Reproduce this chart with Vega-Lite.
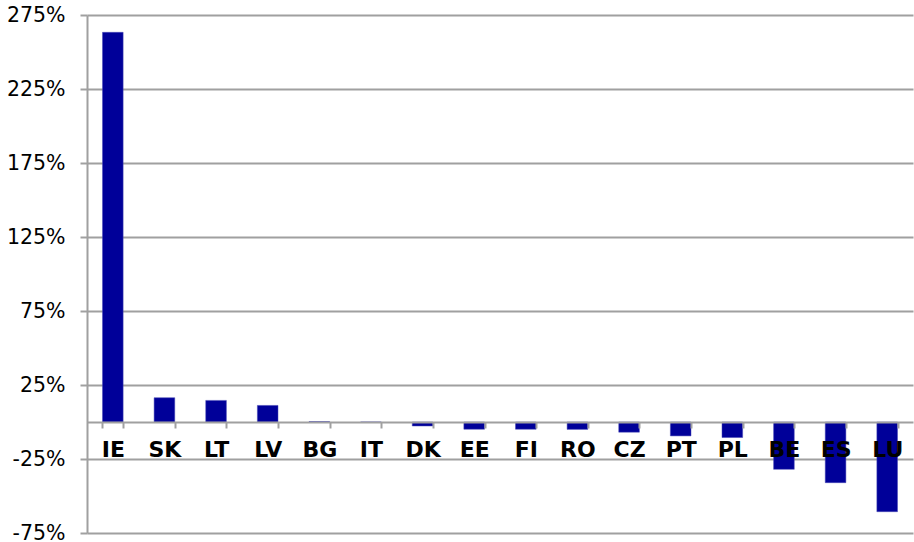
{
  "$schema": "https://vega.github.io/schema/vega-lite/v6.json",
  "width": 826,
  "height": 518,
  "autosize": {"type": "none"},
  "padding": {"left": 87, "top": 15, "right": 1, "bottom": 9},
  "background": "white",
  "config": {"view": {"stroke": null}},
  "data": {"values": [
    {"country": "IE", "value": 263.3},
    {"country": "SK", "value": 16.4},
    {"country": "LT", "value": 14.6},
    {"country": "LV", "value": 11.2},
    {"country": "BG", "value": 0.3},
    {"country": "IT", "value": 0},
    {"country": "DK", "value": -2.7},
    {"country": "EE", "value": -4.9},
    {"country": "FI", "value": -4.9},
    {"country": "RO", "value": -5.0},
    {"country": "CZ", "value": -6.9},
    {"country": "PT", "value": -9.4},
    {"country": "PL", "value": -10.5},
    {"country": "BE", "value": -32},
    {"country": "ES", "value": -41},
    {"country": "LU", "value": -60.6}
  ]},
  "mark": {"type": "bar", "color": "#000099", "stroke": "#4a4ab8", "strokeWidth": 0.5},
  "encoding": {
    "x": {
      "field": "country", "type": "nominal", "sort": null,
      "scale": {"paddingInner": 0.6, "paddingOuter": 0.3},
      "axis": {
        "title": null, "orient": "bottom", "offset": -111,
        "domainColor": "#a0a0a0", "domainWidth": 2,
        "tickColor": "#a0a0a0", "tickWidth": 2, "tickSize": 6, "tickBand": "extent",
        "labelAngle": 0, "labelFont": "DejaVu Sans", "labelFontWeight": "bold",
        "labelFontSize": 22, "labelColor": "black", "labelPadding": 11,
        "grid": false, "zindex": 1
      }
    },
    "y": {
      "field": "value", "type": "quantitative",
      "scale": {"domain": [-75, 275], "nice": false, "zero": false},
      "axis": {
        "title": null, "values": [-75, -25, 25, 75, 125, 175, 225, 275],
        "labelExpr": "datum.value + '%'",
        "labelFont": "DejaVu Sans", "labelFontSize": 20.5, "labelColor": "black",
        "labelPadding": 15, "tickSize": 7, "tickColor": "#a0a0a0", "tickWidth": 2,
        "domainColor": "#a0a0a0", "domainWidth": 2,
        "grid": true, "gridColor": "#a0a0a0", "gridWidth": 2,
        "labelBaseline": "middle"
      }
    }
  }
}
